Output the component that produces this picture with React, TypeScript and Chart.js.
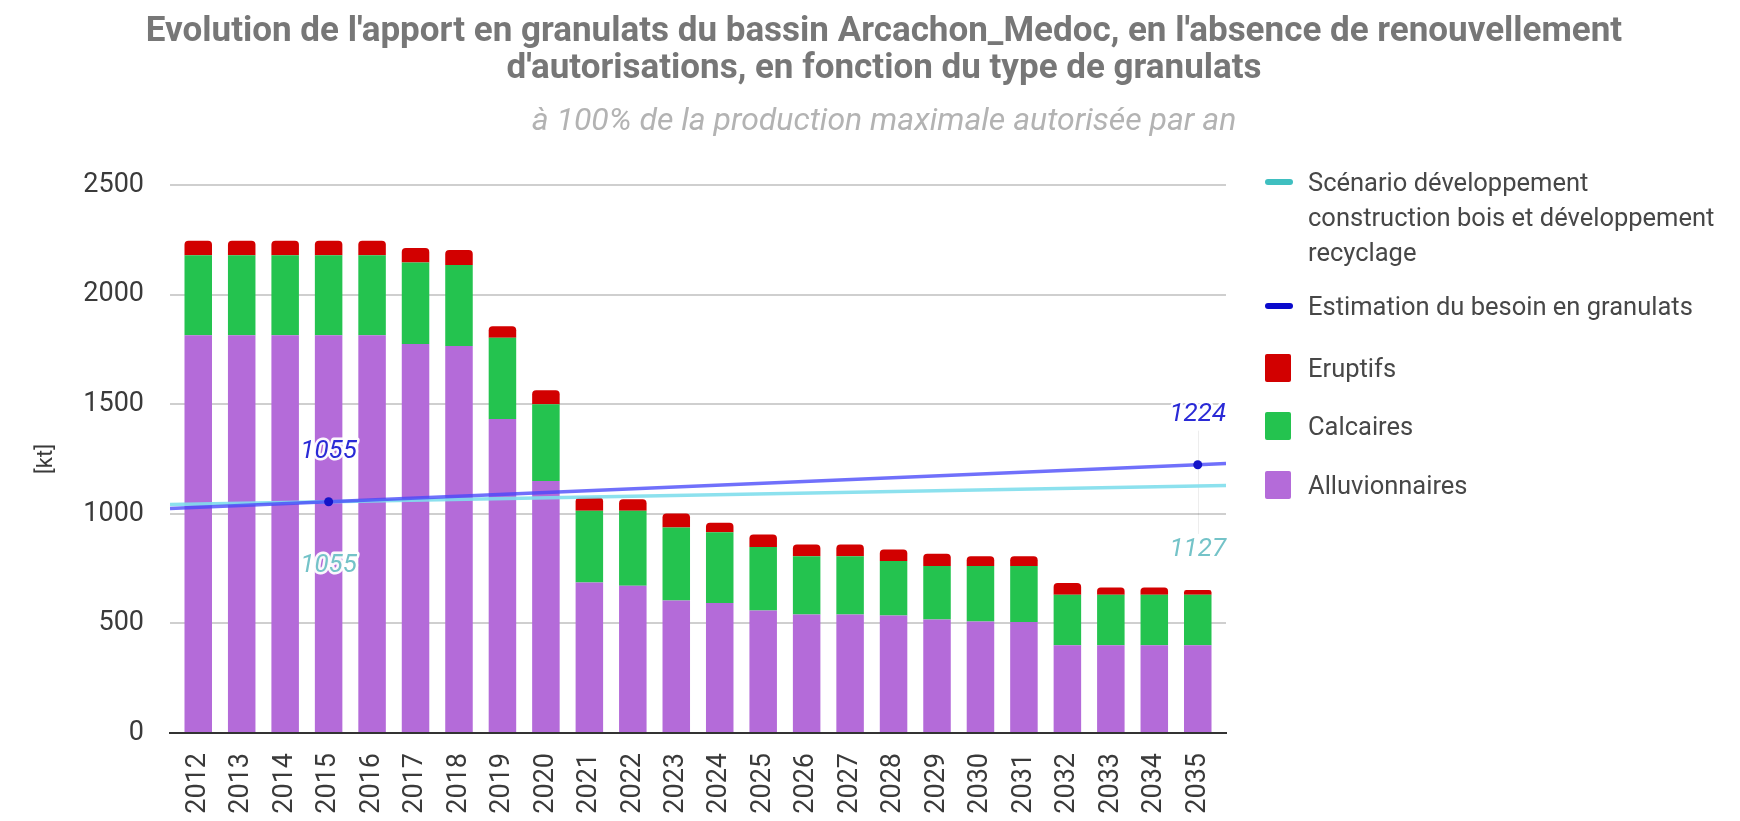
import React, { useEffect, useRef } from "react";
import { Chart, registerables } from "chart.js";

Chart.register(...registerables);

// ---------- data ----------
const years = [2012, 2013, 2014, 2015, 2016, 2017, 2018, 2019, 2020, 2021, 2022, 2023, 2024, 2025, 2026, 2027, 2028, 2029, 2030, 2031, 2032, 2033, 2034, 2035];
const alluvionnaires = [1815, 1815, 1815, 1815, 1815, 1775, 1765, 1433, 1150, 687, 672, 604, 593, 559, 541, 541, 536, 518, 509, 506, 400, 400, 400, 400];
const calcaires = [365, 365, 365, 365, 365, 372, 370, 370, 350, 327, 342, 334, 323, 290, 265, 265, 249, 244, 253, 256, 231, 231, 231, 231];
const eruptifs = [66, 66, 66, 66, 66, 66, 68, 53, 64, 60, 52, 63, 43, 56, 54, 54, 52, 56, 44, 44, 53, 33, 33, 21];

const xMin = 2011.35;
const xMax = 2035.65;
const lineYears = [xMin, 2015, 2035, xMax];
const besoin = [1024, 1055, 1224, 1230];
const scenario = [1042, 1055, 1127, 1129];
const annotatedIdx = [1, 2];

const yTicks = [0, 500, 1000, 1500, 2000, 2500];

const titleLines = [
  "Evolution de l'apport en granulats du bassin Arcachon_Medoc, en l'absence de renouvellement",
  "d'autorisations, en fonction du type de granulats",
];
const subtitle = "à 100% de la production maximale autorisée par an";
const yTitle = "[kt]";

const legendLabels = [
  "Scénario développement\nconstruction bois et développement\nrecyclage",
  "Estimation du besoin en granulats",
  "Eruptifs",
  "Calcaires",
  "Alluvionnaires",
];

// ---------- styles ----------
const C_PURPLE = "#b46bd9";
const C_GREEN = "#24c34f";
const C_RED = "#d20000";
const C_BLUE_LINE = "rgba(72,72,250,0.78)";
const C_CYAN_LINE = "rgba(128,222,236,0.9)";
const C_BLUE_PT = "#1414c8";
const FONT = "Roboto, 'Noto Sans', Arial, sans-serif";

const annotPlugin = {
  id: "annot",
  beforeDatasetsDraw(chart: any) {
    const { ctx } = chart;
    const x = chart.scales.x;
    const y = chart.scales.y;
    ctx.save();
    ctx.strokeStyle = "rgba(0,0,0,0.07)";
    ctx.lineWidth = 1;
    annotatedIdx.forEach((i) => {
      const px = Math.round(x.getPixelForValue(lineYears[i])) + 0.5;
      const pb = y.getPixelForValue(besoin[i]);
      const pc = y.getPixelForValue(scenario[i]);
      ctx.beginPath();
      ctx.moveTo(px, pb - 34);
      ctx.lineTo(px, pc + 48);
      ctx.stroke();
    });
    ctx.restore();
  },
  afterDatasetsDraw(chart: any) {
    const { ctx } = chart;
    const x = chart.scales.x;
    const y = chart.scales.y;
    ctx.save();
    ctx.font = `italic 26px ${FONT}`;
    ctx.textAlign = "center";
    ctx.textBaseline = "middle";
    ctx.lineJoin = "round";
    const draw = (t: string, px: number, py: number, color: string) => {
      ctx.strokeStyle = "rgba(255,255,255,0.95)";
      ctx.lineWidth = 5;
      ctx.strokeText(t, px, py);
      ctx.fillStyle = color;
      ctx.fillText(t, px, py);
    };
    annotatedIdx.forEach((i) => {
      const px = x.getPixelForValue(lineYears[i]);
      draw(String(besoin[i]), px, y.getPixelForValue(besoin[i]) - 50, "#2a2ad6");
      draw(String(scenario[i]), px, y.getPixelForValue(scenario[i]) + 64, "#74c3c8");
    });
    ctx.restore();
  },
};

function ChartCanvas() {
  const ref = useRef<HTMLCanvasElement | null>(null);
  useEffect(() => {
    if (!ref.current) return;
    const toXY = (vals: number[]) => vals.map((v, i) => ({ x: years[i], y: v }));
    const lineXY = (vals: number[]) => vals.map((v, i) => ({ x: lineYears[i], y: v }));
    const pointR = lineYears.map((_, i) => (annotatedIdx.includes(i) ? 4.5 : 0));
    const barCommon = { order: 2, categoryPercentage: 1, barPercentage: 0.633 };
    const chart = new Chart(ref.current, {
      type: "bar",
      data: {
        datasets: [
          {
            type: "line",
            label: legendLabels[1],
            data: lineXY(besoin),
            borderColor: C_BLUE_LINE,
            borderWidth: 3.5,
            pointRadius: pointR,
            pointBackgroundColor: C_BLUE_PT,
            pointBorderColor: C_BLUE_PT,
            pointBorderWidth: 0,
            yAxisID: "yl",
            order: 0,
          } as any,
          {
            type: "line",
            label: legendLabels[0],
            data: lineXY(scenario),
            borderColor: C_CYAN_LINE,
            borderWidth: 3.5,
            pointRadius: 0,
            yAxisID: "yl",
            order: 1,
          } as any,
          { label: legendLabels[4], data: toXY(alluvionnaires), backgroundColor: C_PURPLE, ...barCommon },
          { label: legendLabels[3], data: toXY(calcaires), backgroundColor: C_GREEN, ...barCommon },
          {
            label: legendLabels[2],
            data: toXY(eruptifs),
            backgroundColor: C_RED,
            ...barCommon,
            borderRadius: { topLeft: 4, topRight: 4, bottomLeft: 0, bottomRight: 0 },
            borderSkipped: false,
          },
        ],
      },
      options: {
        responsive: false,
        animation: false,
        events: [],
        layout: { padding: { left: 0, right: 514, top: 185, bottom: 0 } },
        plugins: {
          legend: { display: false },
          tooltip: { enabled: false },
          title: { display: false },
        },
        scales: {
          x: {
            type: "linear",
            min: xMin,
            max: xMax,
            offset: false,
            stacked: true,
            afterFit: (s: any) => {
              s.height = 88;
            },
            afterBuildTicks: (s: any) => {
              s.ticks = years.map((v) => ({ value: v }));
            },
            grid: { display: false, offset: false },
            border: { display: true, color: "#333333", width: 2 },
            ticks: {
              autoSkip: false,
              minRotation: 90,
              maxRotation: 90,
              padding: 12,
              color: "#3a3a3a",
              font: { family: FONT, size: 27 },
              callback: (v: any) => String(v),
            },
          },
          y: {
            type: "linear",
            min: 0,
            max: 2500,
            stacked: true,
            afterFit: (s: any) => {
              s.width = 170;
            },
            afterBuildTicks: (s: any) => {
              s.ticks = yTicks.map((v) => ({ value: v }));
            },
            border: { display: false },
            grid: {
              drawTicks: false,
              color: (c: any) => (c.tick && c.tick.value === 0 ? "rgba(0,0,0,0)" : "#cfcfcf"),
              lineWidth: 2,
            },
            ticks: {
              padding: 26,
              color: "#3a3a3a",
              font: { family: FONT, size: 27 },
              callback: (v: any) => String(v),
            },
            title: {
              display: true,
              text: yTitle,
              color: "#3a3a3a",
              font: { family: FONT, size: 22 },
              padding: { top: 33, bottom: 0 },
            },
          },
          yl: {
            type: "linear",
            display: false,
            min: 0,
            max: 2500,
          },
        },
      } as any,
      plugins: [annotPlugin],
    });
    return () => chart.destroy();
  }, []);
  return (
    <canvas
      ref={ref}
      width={1740}
      height={821}
      style={{ position: "absolute", left: 0, top: 0, width: 1740, height: 821 }}
    />
  );
}

const legendIcons = [
  { kind: "line", color: "#3fbfc0", cy: 182 },
  { kind: "line", color: "#0a0acc", cy: 306 },
  { kind: "box", color: C_RED, cy: 368 },
  { kind: "box", color: C_GREEN, cy: 426 },
  { kind: "box", color: C_PURPLE, cy: 485 },
];

export default function App() {
  return (
    <div
      style={{
        position: "absolute",
        left: 0,
        top: 0,
        width: 1740,
        height: 821,
        background: "#ffffff",
        overflow: "hidden",
        fontFamily: FONT,
      }}
    >
      <ChartCanvas />
      <div
        style={{
          position: "absolute",
          left: 0,
          width: 1768,
          top: 11,
          textAlign: "center",
          fontWeight: 700,
          fontSize: 35,
          lineHeight: "37px",
          color: "#777777",
          whiteSpace: "nowrap",
        }}
      >
        {titleLines.map((t, i) => (
          <div key={i}>{t}</div>
        ))}
      </div>
      <div
        style={{
          position: "absolute",
          left: 0,
          width: 1768,
          top: 100,
          textAlign: "center",
          fontStyle: "italic",
          fontSize: 32,
          lineHeight: "38px",
          color: "#b3b3b3",
          whiteSpace: "nowrap",
        }}
      >
        {subtitle}
      </div>
      {legendLabels.map((label, i) => {
        const ic = legendIcons[i];
        return (
          <React.Fragment key={i}>
            {ic.kind === "line" ? (
              <div
                style={{
                  position: "absolute",
                  left: 1265,
                  top: ic.cy - 3,
                  width: 28,
                  height: 6,
                  borderRadius: 3,
                  background: ic.color,
                }}
              />
            ) : (
              <div
                style={{
                  position: "absolute",
                  left: 1265,
                  top: ic.cy - 14,
                  width: 26,
                  height: 28,
                  borderRadius: 2,
                  background: ic.color,
                }}
              />
            )}
            <div
              style={{
                position: "absolute",
                left: 1308,
                top: ic.cy - 17.5,
                fontSize: 25.5,
                lineHeight: "35px",
                color: "#474747",
                whiteSpace: "pre",
              }}
            >
              {label}
            </div>
          </React.Fragment>
        );
      })}
    </div>
  );
}
